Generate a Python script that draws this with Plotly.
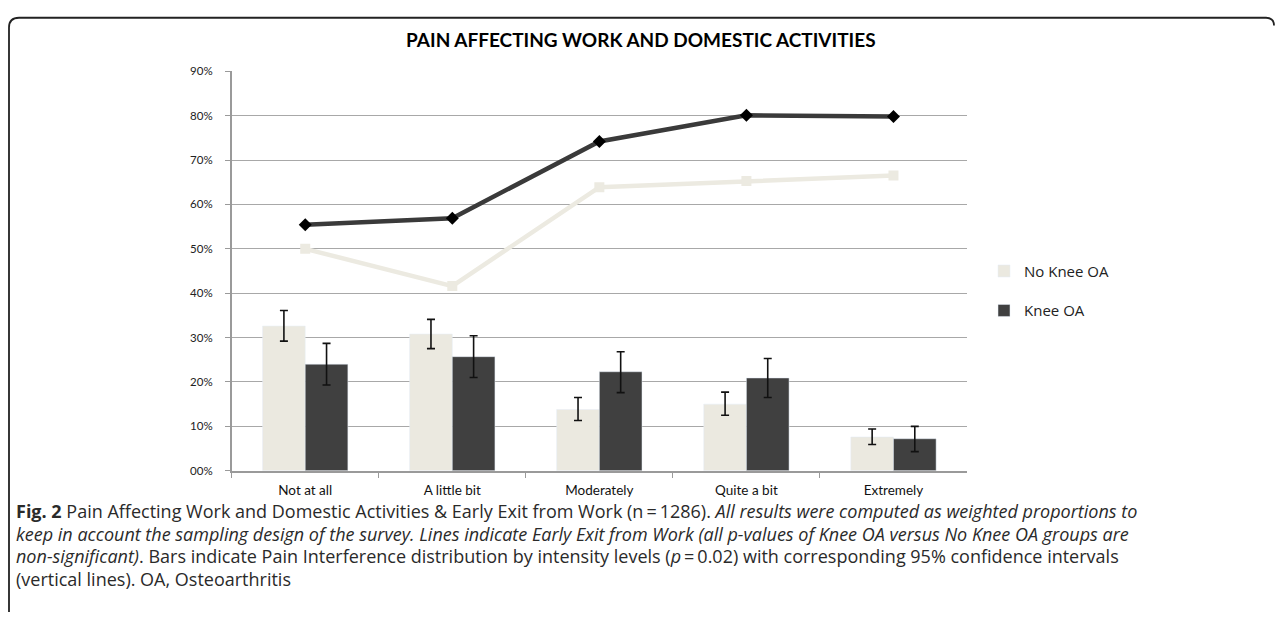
import plotly.graph_objects as go

# ---------------- data ----------------
categories = ["Not at all", "A little bit", "Moderately", "Quite a bit", "Extremely"]

no_knee_bar = [32.6, 30.8, 13.8, 15.0, 7.6]
no_knee_hi = [36.1, 34.1, 16.5, 17.7, 9.4]
no_knee_lo = [29.2, 27.5, 11.3, 12.5, 5.9]

knee_bar = [24.0, 25.7, 22.3, 20.9, 7.2]
knee_hi = [28.7, 30.4, 26.8, 25.3, 10.0]
knee_lo = [19.3, 21.0, 17.6, 16.5, 4.3]

no_knee_exit = [50.0, 41.6, 63.9, 65.3, 66.5]
knee_exit = [55.4, 56.9, 74.2, 80.1, 79.8]

y_ticks = [0, 10, 20, 30, 40, 50, 60, 70, 80, 90]
y_ticktext = ["00%", "10%", "20%", "30%", "40%", "50%", "60%", "70%", "80%", "90%"]

title_text = "PAIN AFFECTING WORK AND DOMESTIC ACTIVITIES"
caption_lines = [
    "<b>Fig. 2</b> Pain Affecting Work and Domestic Activities &amp; Early Exit from Work (n\u2009=\u20091286). "
    "<i>All results were computed as weighted proportions to</i>",
    "<i>keep in account the sampling design of the survey. Lines indicate Early Exit from Work "
    "(all p-values of Knee OA versus No Knee OA groups are</i>",
    "<i>non-significant)</i>. Bars indicate Pain Interference distribution by intensity levels "
    "(<i>p</i>\u2009=\u20090.02) with corresponding 95% confidence intervals",
    "(vertical lines). OA, Osteoarthritis",
]

# ---------------- styling ----------------
W, H = 1281, 622
LIGHT = "#EBE9E0"
DARK = "#404040"
CHART_FONT = "Lato"
CAP_FONT = "Open Sans"


def px(x):
    return x / W


def py(y):
    return 1 - y / H


fig = go.Figure()

fig.add_trace(go.Bar(
    x=categories, y=no_knee_bar, name="No Knee OA", marker_color=LIGHT,
    legendgroup="a",
    error_y=dict(type="data", symmetric=False,
                 array=[h - v for h, v in zip(no_knee_hi, no_knee_bar)],
                 arrayminus=[v - l for v, l in zip(no_knee_bar, no_knee_lo)],
                 color="#111111", thickness=1.6, width=4),
))
fig.add_trace(go.Bar(
    x=categories, y=knee_bar, name="Knee OA", marker_color=DARK,
    legendgroup="b",
    error_y=dict(type="data", symmetric=False,
                 array=[h - v for h, v in zip(knee_hi, knee_bar)],
                 arrayminus=[v - l for v, l in zip(knee_bar, knee_lo)],
                 color="#111111", thickness=1.6, width=4),
))

fig.add_trace(go.Scatter(
    x=categories, y=no_knee_exit, mode="lines+markers", showlegend=False,
    line=dict(color="#ECEAE1", width=4.5),
    marker=dict(symbol="square", size=10, color="#ECEAE1"),
))
fig.add_trace(go.Scatter(
    x=categories, y=knee_exit, mode="lines+markers", showlegend=False,
    line=dict(color="#3A3A3A", width=4.5),
    marker=dict(symbol="diamond", size=10, color="#000000"),
))

annotations = []
cap_y = [515, 538, 561, 584]
for txt, yy in zip(caption_lines, cap_y):
    annotations.append(dict(
        text=txt, x=px(14), y=py(yy), xref="paper", yref="paper",
        xanchor="left", yanchor="middle", showarrow=False, align="left",
        font=dict(family=CAP_FONT, size=18, color="#2a2a2a"),
    ))

annotations.append(dict(
    text="<b>" + title_text + "</b>", x=px(641), y=py(33), xref="paper", yref="paper",
    xanchor="center", yanchor="middle", showarrow=False,
    font=dict(family=CHART_FONT, size=19, color="#000000"),
))

shapes = [dict(
    type="path", xref="paper", yref="paper",
    path=f"M {px(9)},{py(618)} L {px(9)},{py(21)} Q {px(9)},{py(11)} {px(19)},{py(11)} "
         f"L {px(1266)},{py(11)} Q {px(1274)},{py(11)} {px(1274)},{py(19)}",
    line=dict(color="#222222", width=1.8),
)]

fig.update_layout(
    width=W, height=H,
    margin=dict(l=0, r=0, t=0, b=0),
    paper_bgcolor="white", plot_bgcolor="white",
    barmode="group", bargap=0.42, bargroupgap=0,
    showlegend=True,
    legend=dict(x=px(984), y=py(253), xanchor="left", yanchor="top",
                font=dict(family=CAP_FONT, size=15, color="#222222"),
                tracegroupgap=17, bgcolor="rgba(0,0,0,0)"),
    annotations=annotations,
    shapes=shapes,
    xaxis=dict(
        domain=[px(231.7), px(967)], type="category",
        showline=True, linecolor="#9a9a9a", linewidth=1.5,
        ticks="outside", tickson="boundaries", ticklen=6, tickcolor="#9a9a9a",
        ticklabelstandoff=6,
        showgrid=False,
        tickfont=dict(family=CHART_FONT, size=13.5, color="#111111"),
    ),
    yaxis=dict(
        domain=[py(473.6), py(65.7)], range=[0, 90],
        tickvals=y_ticks, ticktext=y_ticktext,
        showline=True, linecolor="#9a9a9a", linewidth=1.5,
        ticks="outside", ticklen=5, tickcolor="#9a9a9a",
        ticklabelstandoff=10,
        showgrid=True, gridcolor="#a8a8a8", gridwidth=1,
        zeroline=False,
        tickfont=dict(family=CHART_FONT, size=11.5, color="#222222"),
    ),
)

fig.write_html("out.html")
